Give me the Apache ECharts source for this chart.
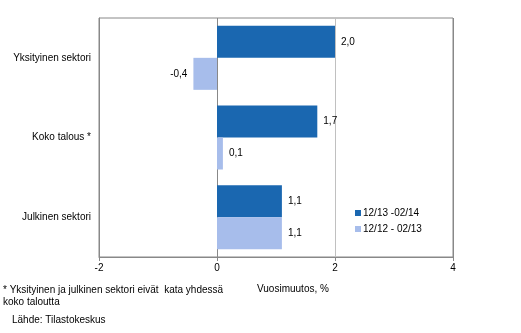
<!DOCTYPE html>
<html><head><meta charset="utf-8">
<script src="https://cdn.jsdelivr.net/npm/echarts@6/dist/echarts.min.js"></script>
<style>html,body{margin:0;padding:0;background:#fff}#c{width:521px;height:333px}</style>
</head><body><div id="c"></div>
<script>
const categories = ['Yksityinen sektori', 'Koko talous *', 'Julkinen sektori'];
const seriesNames = ['12/13 -02/14', '12/12 - 02/13'];
const valuesRecent = [2.0, 1.7, 1.1];
const valuesPrevious = [-0.4, 0.1, 1.1];
const xTicks = [-2, 0, 2, 4];

const FONT = 'Liberation Sans, Arial, sans-serif';
const fmt = p => p.value.toFixed(1).replace('.', ',');
function lbl(v) { return { show: true, position: v < 0 ? 'left' : 'right', distance: 6, formatter: fmt, color: '#000', fontSize: 10, fontFamily: FONT }; }

const chart = echarts.init(document.getElementById('c'), null, { renderer: 'canvas' });
chart.setOption({
  animation: false,
  grid: { left: 99, right: 68, top: 18, bottom: 76, show: true, borderColor: '#888', borderWidth: 1 },
  legend: {
    orient: 'vertical', left: 350, top: 203, itemWidth: 6, itemHeight: 6, itemGap: 6, icon: 'rect',
    textStyle: { fontSize: 10, fontFamily: FONT, color: '#000', padding: [0, 0, 0, -3] },
    data: seriesNames
  },
  xAxis: {
    type: 'value', min: xTicks[0], max: xTicks[xTicks.length - 1], interval: 2,
    axisLine: { show: true, lineStyle: { color: '#888' } },
    axisTick: { show: true, length: 4, lineStyle: { color: '#888' } },
    axisLabel: { fontSize: 10, fontFamily: FONT, color: '#000', margin: 6, formatter: v => String(v) },
    splitLine: { show: true, lineStyle: { color: ['#888', '#888', '#c0c0c0', '#888'] } }
  },
  yAxis: {
    type: 'category', data: categories, inverse: true,
    axisLine: { show: true, onZero: false, lineStyle: { color: '#888' } },
    axisTick: { show: false },
    axisLabel: { fontSize: 10, fontFamily: FONT, color: '#000', margin: 8 }
  },
  series: [
    { name: seriesNames[0], type: 'bar', barWidth: 32, barGap: '0%', itemStyle: { color: '#1a67b0' },
      data: valuesRecent.map(v => ({ value: v, label: lbl(v) })) },
    { name: seriesNames[1], type: 'bar', barWidth: 32, barGap: '0%', itemStyle: { color: '#a7bdeb' },
      data: valuesPrevious.map(v => ({ value: v, label: lbl(v) })) }
  ],
  graphic: [
    { type: 'text', left: 3, top: 284, style: { text: '* Yksityinen ja julkinen sektori eivät  kata yhdessä\nkoko taloutta', fontSize: 10, fontFamily: FONT, fill: '#000', lineHeight: 12 } },
    { type: 'text', left: 257, top: 284, style: { text: 'Vuosimuutos, %', fontSize: 10, fontFamily: FONT, fill: '#000' } },
    { type: 'text', left: 12, top: 315, style: { text: 'Lähde: Tilastokeskus', fontSize: 10, fontFamily: FONT, fill: '#000' } }
  ]
});
</script></body></html>
